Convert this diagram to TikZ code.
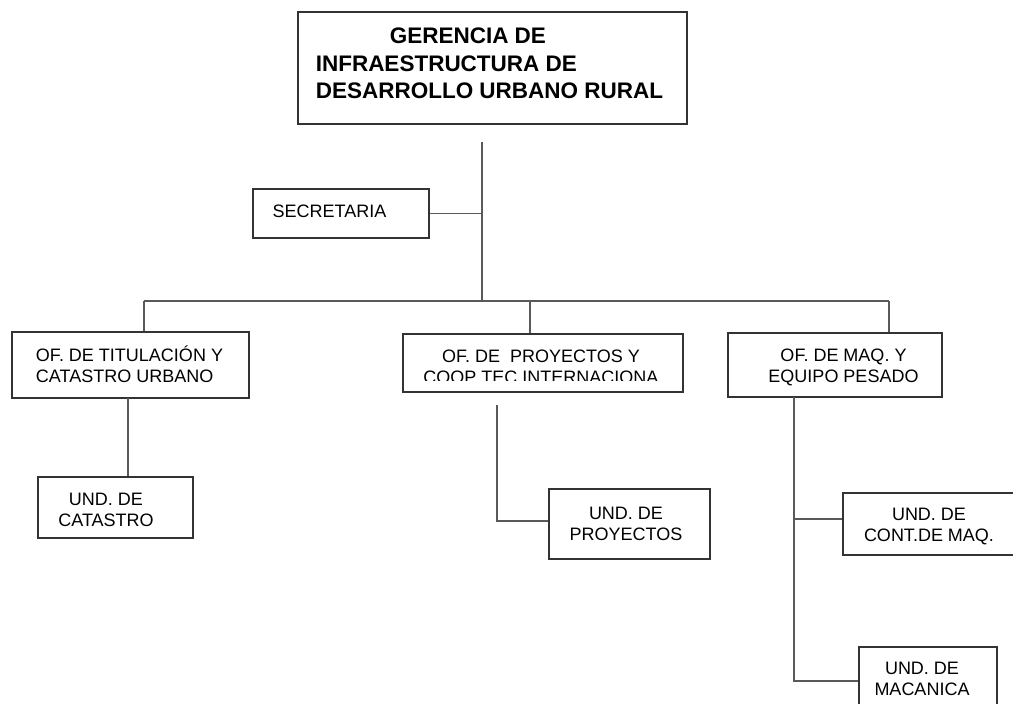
\documentclass[tikz,border=0pt]{standalone}
\usepackage{fontspec}
\setmainfont{Liberation Sans}

\tikzset{
  box/.style={draw=black!80, line width=1.4pt, inner sep=0pt},
  lbl/.style={inner sep=0pt, align=center, font=\fontsize{18}{21}\selectfont},
  link/.style={draw=black!65, line width=1.4pt},
}

\begin{document}
\begin{tikzpicture}[x=1pt, y=-1pt]
            \useasboundingbox (0,0) rectangle (1013,704);
            \clip (0,0) rectangle (1013,704);

            % gerencia + secretaria
            \node [box, minimum width=389, minimum height=112, label={[lbl, align=left, font=\bfseries\fontsize{22.5}{27.5}\selectfont, xshift=-3, yshift=4.5]center:{\hspace*{74pt}GERENCIA DE\\INFRAESTRUCTURA DE\\DESARROLLO URBANO RURAL}}] (gerencia) at (492.5,68) {};
            \node [box, minimum width=176, minimum height=49, label={[lbl, xshift=-11.5, yshift=2]center:SECRETARIA}] (secretaria) at (341,213.5) {};

            % oficinas
            \node [box, minimum width=237, minimum height=66, label={[lbl, align=left, xshift=-1, yshift=1.2]center:{OF. DE TITULACIÓN Y\\CATASTRO URBANO}}] (titulacion) at (130.5,365) {};
            \node [box, minimum width=280, minimum height=58] (proyectos) at (543,363) {};
            \begin{scope}
                \clip (proyectos.north west) rectangle ([yshift=12.5pt]proyectos.south east);
                \node [lbl] (proyectostxt) at ([shift={(-2,4)}]proyectos.center) {OF. DE\ \ PROYECTOS Y\\COOP TEC INTERNACIONA};
            \end{scope}
            \node [box, minimum width=214, minimum height=64, label={[lbl, xshift=8.5, yshift=-2]center:{OF. DE MAQ. Y\\EQUIPO PESADO}}] (maquinaria) at (835,365) {};

            % unidades
            \node [box, minimum width=155, minimum height=61, label={[lbl, xshift=-9.5, yshift=-2.5]center:{UND. DE\\CATASTRO}}] (catastro) at (115.5,507.5) {};
            \node [box, minimum width=161, minimum height=70, label={[lbl, xshift=-3.5, yshift=0.5]center:{UND. DE\\PROYECTOS}}] (undproyectos) at (629.5,524) {};
            \node [box, minimum width=177, minimum height=62, label={[lbl, xshift=-2.5, yshift=-2.5]center:{UND. DE\\CONT.DE MAQ.}}] (control) at (931.5,524) {};
            \node [box, minimum width=138, minimum height=68, label={[lbl, xshift=-6, yshift=2]center:{UND. DE\\MACANICA}}] (mecanica) at (928,681) {};

            \coordinate (trunk) at (482,142);
            \coordinate (busL) at (144,301);
            \coordinate (busM) at (530,301);
            \coordinate (busR) at (889,301);
            \coordinate (titdrop) at (128,398);
            \coordinate (proydrop) at (497,405);
            \coordinate (maqdrop) at (794,397);

            \draw [link] (trunk) -- (trunk |- busL);
            \draw [link] (secretaria.east) -- (secretaria.east -| trunk);
            \draw [link] (busL) -- (busR);
            \draw [link] (busL) -- (busL |- titulacion.north);
            \draw [link] (busM) -- (busM |- proyectos.north);
            \draw [link] (busR) -- (busR |- maquinaria.north);
            \draw [link] (titdrop) -- (titdrop |- catastro.north);
            \draw [link] (proydrop) |- ([yshift=3pt]undproyectos.west);
            \draw [link] (maqdrop) |- (mecanica.west);
            \draw [link] ([yshift=5pt]control.west -| maqdrop) -- ([yshift=5pt]control.west);
        \end{tikzpicture}
\end{document}
